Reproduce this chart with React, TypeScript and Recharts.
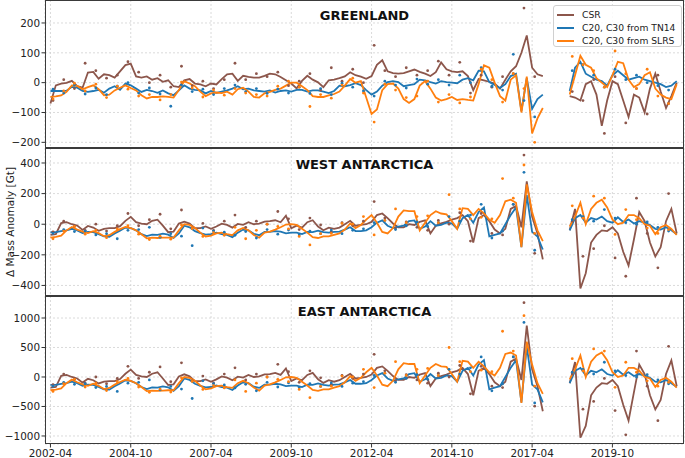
import React from 'react';
import { ComposedChart, Line, Scatter, XAxis, YAxis, CartesianGrid } from 'recharts';

const FONT = '"DejaVu Sans", sans-serif';
const CSR_COLOR = '#8c564b';
const TN14_COLOR = '#1f77b4';
const SLRS_COLOR = '#ff7f0e';

// x axis (decimal years)
const X_DOMAIN = [2002.08, 2021.98];
const X_TICKS = [2002.25, 2004.75, 2007.25, 2009.75, 2012.25, 2014.75, 2017.25, 2019.75];
const X_LABELS = ['2002-04', '2004-10', '2007-04', '2009-10', '2012-04', '2014-10', '2017-04', '2019-10'];

// sampling of the smoothed curves and of the monthly solutions (start, step in years)
const GRACE_LINE_START = 2002.25;
const GFO_LINE_START = 2018.42;
const LINE_STEP = 1 / 6;
const GRACE_DOT_START = 2002.33;
const GFO_DOT_START = 2018.5;
const DOT_STEP = 1 / 3;

// ---------------- GREENLAND ----------------
const grlCsr = [
  -70, -9, -3, -1, 6, -12, -17, 34, 36, 13,
  28, 25, 17, 38, 59, 64, 21, 17, 21, 10,
  15, 3, 8, -12, -15, 8, 12, -3, -6, -12,
  -3, -6, 12, 28, 30, 6, 23, 19, 17, 17,
  23, 30, 28, 19, 8, -3, -19, 6, 23, 10,
  1, -15, 8, 10, 15, 21, 35, 25, 20, 13,
  22, 60, 75, 38, 32, 30, 32, 38, 44, 36,
  30, 22, 35, 68, 45, 38, 35, 38, 22, -25,
  12, 8, 3, -3, -20, 10, 38, 55, 100, 158,
  50, 28, 22,
];
const grlTn14 = [
  -28, -28, -28, -27, -14, -17, -28, -31, -28, -24,
  -34, -20, -12, -24, -3, -9, -20, -31, -24, -28,
  -34, -26, -36, -42, -26, -9, -20, -24, -26, -36,
  -28, -34, -30, -26, -20, -12, -22, -20, -26, -28,
  -30, -26, -33, -28, -26, -30, -24, -24, -30, -26,
  -26, -30, -35, -28, -10, -12, -8, -2, -8, -25,
  -40, -30, -10, 2, 5, 2, -12, -8, -5, 10,
  8, 2, -3, 5, 2, 0, -2, 10, 15, 8,
  40, 38, 2, -8, -18, -5, 22, 30, -95, 15,
  -88, -55, -40,
];
const grlSlrs = [
  -48, -46, -43, -31, -9, -11, -22, -15, -9, -22,
  -42, -40, -26, -17, -9, -18, -26, -42, -53, -48,
  -48, -46, -48, -50, -25, 5, -3, -12, -30, -45,
  -36, -33, -35, -30, -40, -22, -17, -30, -48, -50,
  -36, -31, -24, -20, -10, 0, 0, -12, -25, -45,
  -48, -48, -43, -38, -30, -10, 12, 0, 5, -50,
  -105, -90, -25, -5, -3, -20, -55, -68, -55, -10,
  5, -20, -50, -60, -55, -48, -58, -55, -58, -60,
  -5, 58, 50, 0, -45, -60, 10, 25, -100, 20,
  -170, -120, -85,
];
const grlCsrFo = [-45, -50, -60, -5, 5, -40, -145, -60, 5, -5, -60, -115, -40, -50, -100, -20, 30, -30, -85, -45, 0];
const grlTn14Fo = [-28, 50, 70, 30, 20, 10, 5, -10, 25, 40, 25, 10, 15, 20, 10, 5, 0, -5, -15, -10, 5];
const grlSlrsFo = [-40, 25, 90, 60, 50, 15, 0, -15, 25, 70, 65, 10, -15, -5, 25, 35, -20, -40, -50, -55, -5];

const grlCsrDots = [-60, 10, -20, 65, 40, 15, 25, 70, 35, 0, 25, -15, 55, -10, 5, -20, 10, 65, 10, 30, 20, 35, -10, 5, 30, -25, 50, 5, 45, 0, 125, 40, 20, 50, 25, 40, 72, 25, 68, -35, 25, -15, 20, 30, 250, 20];
const grlTn14Dots = [-22, -35, -8, -38, -18, -40, -12, 0, -35, -18, -38, -79, -8, -30, -22, -40, -20, -8, -30, -20, -36, -22, -35, -15, -36, -20, -40, -2, -15, -28, -45, 5, -8, -18, 12, -5, 10, -8, 25, 0, 50, -12, -25, 95, -60, -115];
const grlSlrsDots = [-55, -28, -2, -28, -5, -50, -12, -22, -45, -40, -58, -40, 2, -18, -48, -25, -42, -20, -35, -40, -45, -12, 5, -15, -80, -40, -52, -8, 15, -35, -132, -5, -25, -50, -45, 5, -65, -40, -68, -48, 45, 10, -65, 30, -20, -200];
const grlCsrFoDots = [-30, -60, 10, -170, 20, -135, -20, -105, 25, -70];
const grlTn14FoDots = [40, 60, 25, -15, 45, 10, 25, 0, -10, -25];
const grlSlrsFoDots = [88, 60, 40, -15, 106, 30, -20, 45, -45, -70];

// ---------------- WEST ANTARCTICA ----------------
const waCsr = [
  -70, -65, 7, 13, 0, -9, -37, -11, -22, -43,
  -30, -26, -26, -13, 22, 48, 13, 4, 0, 22,
  30, -9, -52, -48, 4, 17, 4, -26, -26, -15,
  -30, -15, 4, -4, -22, 2, -4, 13, 0, 4,
  17, 20, 26, 13, 56, -26, -9, -22, 13, 26,
  -15, -39, -22, -30, -22, 0, 22, -10, -5, 0,
  15, 60, 70, 40, 5, -20, -20, 0, -5, 15,
  25, -60, -10, 5, 15, 30, 40, 60, 20, -120,
  40, 60, 20, -35, -60, -30, 100, 120, -20, 280,
  50, -60, -230,
];
const waTn14 = [
  -52, -52, -45, -40, -30, -40, -58, -50, -52, -65,
  -80, -82, -60, -42, -22, -25, -40, -65, -78, -68,
  -70, -62, -68, -90, -60, -10, -20, -45, -58, -68,
  -65, -55, -65, -70, -85, -55, -35, -40, -63, -72,
  -50, -50, -45, -48, -60, -55, -55, -65, -50, -52,
  -42, -52, -55, -50, -48, -35, -20, -45, -45, -40,
  -20, 10, 25, -10, -25, -15, -10, 20, 25, -30,
  -15, 20, -10, -5, 10, 5, -30, 40, 60, 10,
  80, 110, -80, -70, -60, 0, 60, 110, -150, 190,
  -50, -80, -165,
];
const waSlrs = [
  -87, -82, -75, -40, -18, -35, -48, -58, -45, -58,
  -78, -72, -50, -32, -18, -25, -40, -65, -92, -88,
  -90, -88, -87, -87, -40, 0, -5, -25, -55, -80,
  -75, -60, -55, -65, -72, -40, -25, -40, -70, -88,
  -55, -48, -35, -20, -2, 0, -5, -30, -55, -85,
  -90, -80, -80, -70, -60, -35, 5, -25, -5, 30,
  60, 10, -50, -60, -25, 50, 90, 85, 85, -40,
  10, 60, 85, 70, 65, 20, -30, 105, 100, 60,
  100, 70, 30, 10, 60, 150, 160, 140, -150, 260,
  80, -40, -110,
];
const waCsrFo = [-40, 100, -420, -320, -120, -70, -40, -45, -20, -60, -180, -270, -100, 80, 20, -120, -210, -150, 20, 100, -60];
const waTn14Fo = [-40, 40, 60, 10, 40, 30, 50, 20, 10, 45, 15, 30, 5, 20, 10, -5, -30, -35, -20, -40, -65];
const waSlrsFo = [-15, 50, 140, 0, 100, 140, 160, 110, 30, 0, 10, 60, 60, 40, 0, -10, -65, -20, -5, -30, -70];

const waCsrDots = [-50, 20, -15, -40, 0, -45, -10, 70, -10, 30, 65, -30, 93, -25, 5, -40, 20, 60, -20, 20, 0, 83, 35, -35, 40, -5, -50, 10, -10, 20, 148, 40, -25, 15, -20, -40, 25, 0, 75, -110, 70, -60, -70, 130, 452, -190];
const waTn14Dots = [-60, -35, -48, -45, -70, -62, -95, -40, -35, -20, -85, -62, -78, -140, -25, -45, -52, -72, -48, -90, -35, -65, -38, -70, -45, -62, -38, -62, -40, -30, 10, 25, -35, -10, 15, -15, 10, 50, 20, 60, 130, -90, -45, 130, 339, -170];
const waSlrsDots = [-95, -45, -15, -65, -40, -88, -30, -10, -65, -100, -78, -98, -5, -28, -80, -55, -72, -20, -95, -40, 0, -15, -30, -80, -135, -62, -60, 5, 0, 50, -70, 25, 100, 10, 50, 55, 10, 193, 100, 35, 45, 35, 298, 170, 387, -60];
const waCsrFoDots = [20, -210, -160, -10, -220, -340, 170, -60, -285, 200];
const waTn14FoDots = [30, 50, 20, 96, 40, 10, 0, 15, -20, -45];
const waSlrsFoDots = [120, 40, 183, 170, -67, 96, 30, -25, -60, -35];

// ---------------- EAST ANTARCTICA ----------------
const eaCsr = [
  -180, -170, 20, 35, 0, -25, -95, -30, -55, -110,
  -80, -70, -70, -35, 55, 125, 35, 10, 0, 55,
  80, -25, -135, -125, 10, 45, 10, -70, -70, -40,
  -80, -40, 10, -10, -55, 5, -10, 35, 0, 10,
  45, 50, 70, 35, 145, -70, -25, -55, 35, 70,
  -40, -100, -55, -80, -55, 0, 55, -25, -15, 0,
  40, 155, 180, 105, 15, -50, -50, 0, -15, 40,
  65, -155, -25, 15, 40, 80, 105, 155, 50, -310,
  105, 155, 50, -90, -155, -80, 260, 310, -50, 870,
  130, -155, -580,
];
const eaTn14 = [
  -135, -135, -115, -105, -80, -105, -150, -130, -135, -170,
  -210, -215, -155, -110, -55, -65, -105, -170, -205, -175,
  -180, -160, -175, -235, -155, -25, -50, -115, -150, -175,
  -170, -145, -170, -180, -220, -145, -90, -105, -165, -185,
  -130, -130, -115, -125, -155, -145, -145, -170, -130, -135,
  -110, -135, -145, -130, -125, -90, -50, -115, -115, -105,
  -50, 25, 65, -25, -65, -40, -25, 50, 65, -80,
  -40, 50, -25, -15, 25, 15, -80, 105, 155, 25,
  210, 285, -210, -180, -155, 0, 155, 285, -430, 520,
  -130, -210, -430,
];
const eaSlrs = [
  -225, -215, -195, -105, -45, -90, -125, -150, -115, -150,
  -205, -185, -130, -85, -45, -65, -105, -170, -240, -230,
  -235, -230, -225, -225, -105, 0, -15, -65, -145, -210,
  -195, -155, -145, -170, -185, -105, -65, -105, -180, -230,
  -145, -125, -90, -50, -5, 0, -15, -80, -145, -220,
  -235, -210, -210, -180, -155, -90, 15, -65, -15, 80,
  155, 25, -130, -155, -65, 130, 235, 220, 220, -105,
  25, 155, 220, 180, 170, 50, -80, 275, 260, 155,
  260, 180, 80, 25, 155, 390, 415, 365, -440, 600,
  210, -105, -285,
];
const eaCsrFo = [-105, 255, -1030, -830, -310, -180, -105, -115, -50, -155, -470, -740, -260, 210, 50, -310, -550, -390, 50, 280, -155];
const eaTn14Fo = [-105, 105, 155, 25, 105, 80, 130, 50, 25, 115, 40, 80, 15, 50, 25, -15, -80, -90, -50, -105, -170];
const eaSlrsFo = [-40, 130, 365, 0, 260, 365, 415, 285, 80, 0, 25, 155, 155, 105, 0, -25, -170, -50, -15, -80, -180];

const eaCsrDots = [-130, 50, -40, -105, 0, -115, -25, 180, -25, 80, 170, -80, 240, -65, 15, -105, 50, 155, -50, 50, 0, 215, 90, -90, 105, -15, -130, 25, -25, 50, 385, 105, -65, 40, -50, -105, 65, 0, 195, -285, 180, -155, -180, 340, 1260, -495];
const eaTn14Dots = [-155, -90, -125, -115, -180, -160, -245, -105, -90, -50, -220, -160, -205, -365, -65, -115, -135, -185, -125, -235, -90, -170, -100, -180, -115, -160, -100, -160, -105, -80, 25, 65, -90, -25, 40, -40, 25, 130, 50, 155, 340, -235, -115, 340, 925, -440];
const eaSlrsDots = [-245, -115, -40, -170, -105, -230, -80, -25, -170, -260, -205, -255, -15, -75, -210, -145, -185, -50, -245, -105, 0, -40, -80, -210, -350, -160, -155, 15, 0, 130, -180, 65, 260, 25, 130, 145, 25, 500, 260, 90, 115, 90, 775, 440, 1040, -155];
const eaCsrFoDots = [50, -545, -415, -25, -570, -980, 440, -155, -740, 520];
const eaTn14FoDots = [80, 130, 50, 250, 105, 25, 0, 40, -50, -115];
const eaSlrsFoDots = [310, 105, 475, 440, -175, 250, 80, -65, -155, -90];

// pair values with their sampling times
const toPoints = (values, start, step) => values.map((v, i) => ({ t: start + i * step, v }));

const makeSeries = (color, grace, gfo, graceDots, gfoDots) => ({
  color,
  lines: [toPoints(grace, GRACE_LINE_START, LINE_STEP), toPoints(gfo, GFO_LINE_START, LINE_STEP)],
  dots: [...toPoints(graceDots, GRACE_DOT_START, DOT_STEP), ...toPoints(gfoDots, GFO_DOT_START, DOT_STEP)],
});

const panels = [
  {
    title: 'GREENLAND',
    domain: [-219, 277],
    ticks: [-200, -100, 0, 100, 200],
    series: [
      makeSeries(CSR_COLOR, grlCsr, grlCsrFo, grlCsrDots, grlCsrFoDots),
      makeSeries(TN14_COLOR, grlTn14, grlTn14Fo, grlTn14Dots, grlTn14FoDots),
      makeSeries(SLRS_COLOR, grlSlrs, grlSlrsFo, grlSlrsDots, grlSlrsFoDots),
    ],
  },
  {
    title: 'WEST ANTARCTICA',
    domain: [-469, 498],
    ticks: [-400, -200, 0, 200, 400],
    series: [
      makeSeries(CSR_COLOR, waCsr, waCsrFo, waCsrDots, waCsrFoDots),
      makeSeries(TN14_COLOR, waTn14, waTn14Fo, waTn14Dots, waTn14FoDots),
      makeSeries(SLRS_COLOR, waSlrs, waSlrsFo, waSlrsDots, waSlrsFoDots),
    ],
  },
  {
    title: 'EAST ANTARCTICA',
    domain: [-1136, 1373],
    ticks: [-1000, -500, 0, 500, 1000],
    series: [
      makeSeries(CSR_COLOR, eaCsr, eaCsrFo, eaCsrDots, eaCsrFoDots),
      makeSeries(TN14_COLOR, eaTn14, eaTn14Fo, eaTn14Dots, eaTn14FoDots),
      makeSeries(SLRS_COLOR, eaSlrs, eaSlrsFo, eaSlrsDots, eaSlrsFoDots),
    ],
  },
];

const legendItems = [
  { label: 'CSR', color: CSR_COLOR },
  { label: 'C20, C30 from TN14', color: TN14_COLOR },
  { label: 'C20, C30 from SLRS', color: SLRS_COLOR },
];

const minus = (v) => String(v).replace('-', '\u2212');

const PANEL_H = 148;
const PLOT_LEFT = 45;
const PLOT_W = 639;

function Panel({ panel, index }) {
  const last = index === panels.length - 1;
  const height = last ? PANEL_H + 14 : PANEL_H;
  return (
    <div style={{ position: 'absolute', left: 0, top: index * PANEL_H }}>
      <ComposedChart width={685} height={height} margin={{ top: 0, right: 1, bottom: 0, left: 0 }}>
        <CartesianGrid stroke="#d0d0d0" strokeDasharray="2 2" strokeWidth={0.8} />
        <XAxis
          type="number"
          dataKey="t"
          domain={X_DOMAIN}
          ticks={X_TICKS}
          interval={0}
          allowDataOverflow
          hide={!last}
          height={last ? 14 : 0}
          axisLine={false}
          tickSize={3.5}
          tickMargin={2}
          tickLine={{ stroke: '#333' }}
          tick={{ fill: '#222', fontSize: 10.4, fontFamily: FONT }}
          tickFormatter={(v) => X_LABELS[X_TICKS.indexOf(v)] ?? ''}
        />
        <YAxis
          type="number"
          dataKey="v"
          domain={panel.domain}
          ticks={panel.ticks}
          interval={0}
          allowDataOverflow
          width={PLOT_LEFT}
          axisLine={false}
          tickSize={3.5}
          tickMargin={1.5}
          tickLine={{ stroke: '#333' }}
          tick={{ fill: '#222', fontSize: 10.4, fontFamily: FONT }}
          tickFormatter={minus}
        />
        {panel.series.map((s, k) => (
          <Scatter
            key={'d' + k}
            data={s.dots}
            fill={s.color}
            isAnimationActive={false}
            shape={(p) => <circle cx={p.cx} cy={p.cy} r={1.4} fill={s.color} />}
          />
        ))}
        {panel.series.map((s, k) =>
          s.lines.map((pts, m) => (
            <Line
              key={'l' + k + '-' + m}
              data={pts}
              dataKey="v"
              stroke={s.color}
              strokeWidth={1.8}
              dot={false}
              activeDot={false}
              isAnimationActive={false}
            />
          ))
        )}
      </ComposedChart>
      <div
        style={{
          position: 'absolute',
          left: PLOT_LEFT,
          top: 0,
          width: PLOT_W,
          height: PANEL_H,
          border: '1px solid #3a3a3a',
          boxSizing: 'border-box',
          pointerEvents: 'none',
        }}
      />
      <div
        style={{
          position: 'absolute',
          left: PLOT_LEFT,
          width: PLOT_W + 2 * (364.5 - PLOT_LEFT - PLOT_W / 2),
          top: index === 0 ? 8 : index === 1 ? 9 : 8,
          textAlign: 'center',
          fontFamily: FONT,
          fontWeight: 'bold',
          fontSize: 13,
          color: '#111',
        }}
      >
        {panel.title}
      </div>
    </div>
  );
}

export default function App() {
  return (
    <div style={{ position: 'absolute', left: 0, top: 0, width: 685, height: 458, background: '#fff', overflow: 'hidden' }}>
      {panels.map((p, i) => (
        <Panel key={p.title} panel={p} index={i} />
      ))}
      <div
        style={{
          position: 'absolute',
          left: 10,
          top: 222,
          transform: 'translate(-50%, -50%) rotate(-90deg)',
          whiteSpace: 'nowrap',
          fontFamily: FONT,
          fontSize: 10.5,
          color: '#222',
        }}
      >
        Δ Mass Anomaly [Gt]
      </div>
      <div
        style={{
          position: 'absolute',
          left: 553,
          top: 5,
          width: 129,
          height: 42,
          border: '1px solid #d0d0d0',
          borderRadius: 3,
          background: 'rgba(255,255,255,0.85)',
          boxSizing: 'border-box',
          fontFamily: FONT,
          fontSize: 9.2,
          color: '#222',
        }}
      >
        {legendItems.map((it, k) => (
          <div key={it.label} style={{ position: 'absolute', left: 0, top: 2 + k * 13, height: 13, width: '100%' }}>
            <div style={{ position: 'absolute', left: 3, top: 6, width: 17, height: 2, background: it.color }} />
            <div style={{ position: 'absolute', left: 28, top: 0, lineHeight: '13px', whiteSpace: 'nowrap' }}>{it.label}</div>
          </div>
        ))}
      </div>
    </div>
  );
}
